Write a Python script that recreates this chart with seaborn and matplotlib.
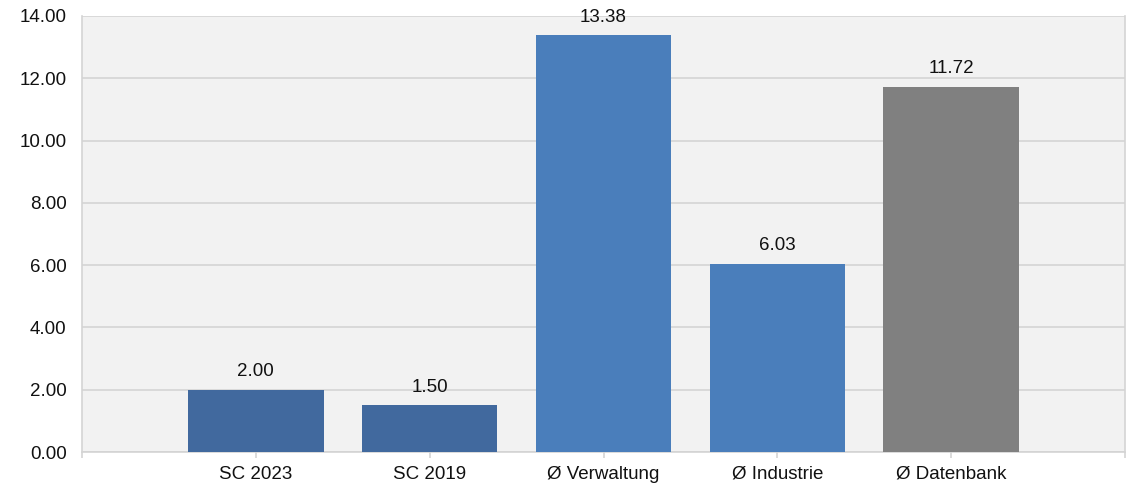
import matplotlib
matplotlib.use("Agg")
import matplotlib.pyplot as plt
import seaborn as sns
import pandas as pd

categories = ["SC 2023", "SC 2019", "Ø Verwaltung", "Ø Industrie", "Ø Datenbank"]
values = [2.00, 1.50, 13.38, 6.03, 11.72]
bar_colors = ["#41699E", "#41699E", "#4A7EBB", "#4A7EBB", "#808080"]
y_ticks = [0, 2, 4, 6, 8, 10, 12, 14]

sns.set_theme(style="white")
plt.rcParams["font.family"] = ["Liberation Sans", "DejaVu Sans"]

df = pd.DataFrame({"cat": categories, "val": values})

fig = plt.figure(figsize=(11.35, 4.86), dpi=100)
ax = fig.add_axes([82 / 1135, 1 - 452 / 486, (1125 - 82) / 1135, (452 - 16) / 486])
ax.set_facecolor("#F2F2F2")

sns.barplot(data=df, x="cat", y="val", hue="cat", palette=bar_colors,
            width=0.78, legend=False, ax=ax, saturation=1, zorder=3,
            linewidth=0, edgecolor="none")

for i, v in enumerate(values):
    ax.annotate(f"{v:.2f}", (i, v), xytext=(0, 7), textcoords="offset points",
                ha="center", va="bottom", fontsize=13.5, color="#111111")

ax.set_xlim(-1, 5)
ax.set_ylim(0, 14)
ax.set_yticks(y_ticks)
ax.set_yticklabels([f"{t:.2f}" for t in y_ticks], fontsize=13.5, color="#111111")
ax.set_xticks(range(-1, 6))
ax.set_xticklabels([""] + categories + [""], fontsize=13.5, color="#111111")
ax.set_xlabel("")
ax.set_ylabel("")
ax.yaxis.grid(True, color="#D4D4D4", linewidth=1.2, zorder=0)
ax.set_axisbelow(True)
ax.tick_params(axis="y", length=8, color="#D4D4D4", width=1.2, pad=3)
ax.tick_params(axis="x", length=4, color="#D4D4D4", width=1.2, pad=6, bottom=True)
for s in ax.spines.values():
    s.set_color("#D4D4D4")
    s.set_linewidth(1.2)
ax.spines["top"].set_visible(False)

fig.savefig("out.png", dpi=100, facecolor="white")
